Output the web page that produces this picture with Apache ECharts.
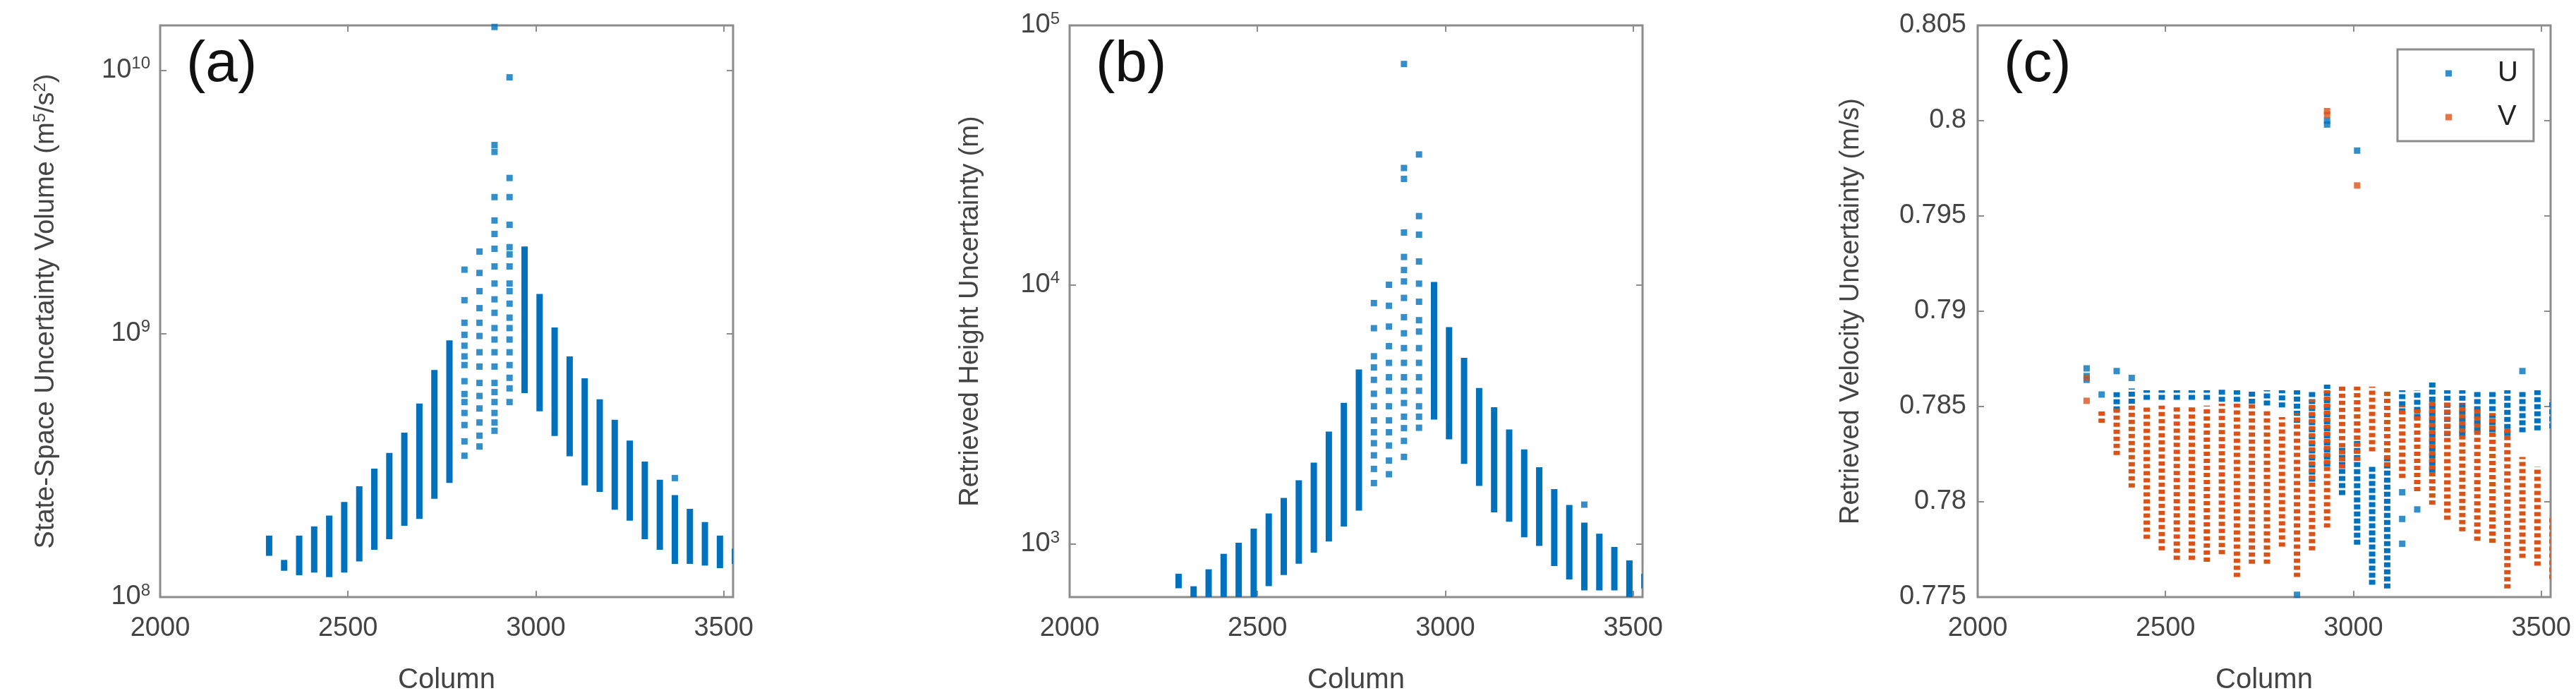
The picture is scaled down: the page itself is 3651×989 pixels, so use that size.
<!DOCTYPE html>
<html>
<head>
<meta charset="utf-8">
<script src="https://cdn.jsdelivr.net/npm/echarts@6/dist/echarts.min.js"></script>
<style>html,body{margin:0;padding:0;background:#fff}#chart{width:3651px;height:989px}</style>
</head>
<body>
<div id="chart"></div>
<script>
// (a) state-space uncertainty volume: dense column strips + sparse peak points
var aStripCols = [2290, 2330, 2370, 2410, 2450, 2490, 2530, 2570, 2610, 2650, 2690, 2730, 2770, 2970, 3010, 3050, 3090, 3130, 3170, 3210, 3250, 3290, 3330, 3370, 3410, 3450, 3490, 3530];
var aStripMin = [1.47e8, 1.29e8, 1.24e8, 1.27e8, 1.22e8, 1.27e8, 1.40e8, 1.55e8, 1.70e8, 1.91e8, 2.03e8, 2.42e8, 2.78e8, 6.1e8, 5.2e8, 4.19e8, 3.51e8, 2.72e8, 2.57e8, 2.2e8, 2.0e8, 1.7e8, 1.55e8, 1.37e8, 1.37e8, 1.35e8, 1.32e8, 1.37e8];
var aStripMax = [1.67e8, 1.35e8, 1.67e8, 1.81e8, 1.99e8, 2.24e8, 2.57e8, 3.0e8, 3.44e8, 4.11e8, 5.3e8, 7.1e8, 9.2e8, 2.09e9, 1.38e9, 1.03e9, 8.0e8, 6.6e8, 5.5e8, 4.6e8, 3.83e8, 3.19e8, 2.72e8, 2.38e8, 2.11e8, 1.88e8, 1.67e8, 1.49e8];
var aDots = [
  [2810, 1.75e9], [2810, 1.34e9], [2810, 1.1e9], [2810, 9.9e8], [2810, 9.0e8], [2810, 8.2e8], [2810, 7.6e8], [2810, 6.6e8], [2810, 5.9e8], [2810, 5.5e8], [2810, 5.0e8], [2810, 4.5e8], [2810, 3.9e8], [2810, 3.44e8],
  [2850, 2.05e9], [2850, 1.7e9], [2850, 1.45e9], [2850, 1.25e9], [2850, 1.1e9], [2850, 9.8e8], [2850, 8.5e8], [2850, 7.5e8], [2850, 6.5e8], [2850, 5.8e8], [2850, 5.2e8], [2850, 4.6e8], [2850, 4.1e8], [2850, 3.73e8],
  [2890, 1.46e10], [2890, 5.2e9], [2890, 4.9e9], [2890, 3.3e9], [2890, 2.69e9], [2890, 2.39e9], [2890, 2.1e9], [2890, 1.8e9], [2890, 1.55e9], [2890, 1.35e9], [2890, 1.2e9], [2890, 1.05e9], [2890, 9.5e8], [2890, 8.5e8], [2890, 7.5e8], [2890, 6.5e8], [2890, 6.0e8], [2890, 5.5e8], [2890, 5.0e8], [2890, 4.6e8], [2890, 4.28e8],
  [2930, 9.4e9], [2930, 3.9e9], [2930, 3.3e9], [2930, 2.59e9], [2930, 2.13e9], [2930, 2.0e9], [2930, 1.8e9], [2930, 1.55e9], [2930, 1.45e9], [2930, 1.3e9], [2930, 1.15e9], [2930, 1.05e9], [2930, 9.5e8], [2930, 8.5e8], [2930, 7.6e8], [2930, 6.8e8], [2930, 6.2e8], [2930, 5.5e8],
  [3370, 2.83e8]
];

// (b) retrieved height uncertainty
var bStripCols = [2290, 2330, 2370, 2410, 2450, 2490, 2530, 2570, 2610, 2650, 2690, 2730, 2770, 2970, 3010, 3050, 3090, 3130, 3170, 3210, 3250, 3290, 3330, 3370, 3410, 3450, 3490, 3530];
var bStripMin = [693, 600, 600, 600, 600, 600, 706, 780, 861, 951, 1050, 1200, 1380, 3100, 2600, 2090, 1720, 1360, 1250, 1090, 1010, 844, 750, 680, 680, 680, 641, 693];
var bStripMax = [750, 671, 780, 895, 988, 1120, 1280, 1470, 1720, 2010, 2650, 3420, 4600, 10000, 6700, 5100, 3900, 3290, 2700, 2260, 1930, 1590, 1380, 1180, 1070, 951, 844, 750];
var bDots = [
  [2810, 8500], [2810, 6800], [2810, 5300], [2810, 4800], [2810, 4300], [2810, 3800], [2810, 3400], [2810, 3000], [2810, 2700], [2810, 2450], [2810, 2200], [2810, 1950], [2810, 1720],
  [2850, 10000], [2850, 8300], [2850, 6900], [2850, 5800], [2850, 5000], [2850, 4400], [2850, 3900], [2850, 3400], [2850, 3000], [2850, 2700], [2850, 2400], [2850, 2100], [2850, 1860],
  [2890, 71000], [2890, 28200], [2890, 25600], [2890, 15900], [2890, 12800], [2890, 11400], [2890, 10300], [2890, 8900], [2890, 7500], [2890, 6500], [2890, 5700], [2890, 5000], [2890, 4400], [2890, 3900], [2890, 3500], [2890, 3100], [2890, 2800], [2890, 2500], [2890, 2170],
  [2930, 31800], [2930, 18400], [2930, 15600], [2930, 12300], [2930, 10100], [2930, 8600], [2930, 7300], [2930, 6600], [2930, 5700], [2930, 5000], [2930, 4400], [2930, 3900], [2930, 3400], [2930, 3100], [2930, 2810],
  [3370, 1420]
];

// (c) retrieved velocity uncertainty, U and V
var uStripCols = [2370, 2410, 2450, 2490, 2530, 2570, 2610, 2650, 2690, 2730, 2770, 2810, 2850, 2890, 2930, 2970, 3010, 3050, 3090, 3130, 3170, 3210, 3250, 3290, 3330, 3370, 3410, 3450, 3490, 3530];
var uStripMin = [0.7849, 0.7853, 0.7855, 0.7855, 0.7855, 0.7855, 0.7855, 0.7854, 0.7854, 0.7853, 0.7852, 0.7851, 0.7843, 0.7812, 0.7820, 0.7805, 0.7779, 0.7758, 0.7756, 0.7848, 0.7845, 0.7817, 0.7836, 0.7836, 0.7838, 0.7838, 0.7836, 0.7838, 0.7839, 0.7840];
var uStripMax = [0.7857, 0.7858, 0.7857, 0.7857, 0.7857, 0.7857, 0.7857, 0.7858, 0.7857, 0.7857, 0.7857, 0.7857, 0.7857, 0.7857, 0.7860, 0.7827, 0.7831, 0.7817, 0.7822, 0.7857, 0.7857, 0.7862, 0.7857, 0.7857, 0.7857, 0.7857, 0.7857, 0.7857, 0.7857, 0.7852];
var uDots = [[2290, 0.7870], [2290, 0.7866], [2290, 0.7864], [2330, 0.78563], [2370, 0.78686], [2410, 0.7865], [2850, 0.77512], [2930, 0.8000], [2930, 0.7998], [3010, 0.79843], [3130, 0.7805], [3130, 0.7791], [3130, 0.7778], [3170, 0.7796], [3450, 0.78686]];
var vStripCols = [2330, 2370, 2410, 2450, 2490, 2530, 2570, 2610, 2650, 2690, 2730, 2770, 2810, 2850, 2890, 2930, 2970, 3010, 3050, 3090, 3130, 3170, 3210, 3250, 3290, 3330, 3370, 3410, 3450, 3490, 3530];
var vStripMin = [0.7843, 0.7826, 0.7809, 0.7782, 0.7776, 0.7771, 0.7771, 0.7770, 0.7774, 0.7762, 0.7769, 0.7769, 0.7778, 0.7762, 0.7776, 0.7788, 0.7819, 0.7823, 0.7828, 0.7820, 0.7814, 0.7807, 0.7800, 0.7792, 0.7786, 0.7781, 0.7780, 0.7756, 0.7772, 0.7768, 0.7761];
var vStripMax = [0.7847, 0.7849, 0.7850, 0.7849, 0.7849, 0.7849, 0.7849, 0.7849, 0.7850, 0.7850, 0.7850, 0.7847, 0.7843, 0.7845, 0.7852, 0.7857, 0.7860, 0.7859, 0.7859, 0.7857, 0.7849, 0.7848, 0.7852, 0.7852, 0.7850, 0.7848, 0.7845, 0.7838, 0.7822, 0.7817, 0.7791];
var vDots = [[2290, 0.7865], [2290, 0.7853], [2930, 0.8005], [2930, 0.8003], [3010, 0.7966]];

var BLUE = '#0072BD', ORANGE = '#D95319';
var GREY = '#8c8c8c', TEXT = '#444', FONT = 'Liberation Sans';

function strips(cols, mins, maxs) {
    return cols.map(function (c, i) { return [c, mins[i], maxs[i]]; });
}

function stripSeries(idx, data, color, dash) {
    return {
        type: 'custom', xAxisIndex: idx, yAxisIndex: idx, clip: true, data: data,
        renderItem: function (params, api) {
            var p0 = api.coord([api.value(0), api.value(1)]);
            var p1 = api.coord([api.value(0), api.value(2)]);
            return {
                type: 'line',
                shape: { x1: p0[0], y1: p0[1] + 4, x2: p1[0], y2: p1[1] - 4 },
                style: { stroke: color, lineWidth: 9, lineDash: dash }
            };
        },
        encode: { x: 0, y: [1, 2] }
    };
}

function dotSeries(idx, data, color, name) {
    return {
        type: 'scatter', name: name, xAxisIndex: idx, yAxisIndex: idx, data: data,
        symbol: 'rect', symbolSize: 9, itemStyle: { color: color }, clip: true
    };
}

var lefts = [227, 1516, 2803];
var txt = { color: TEXT, fontFamily: FONT, fontSize: 38 };
var tick = { inside: true, length: 9, lineStyle: { color: GREY, width: 2 } };
var grids = lefts.map(function (l) {
    return { left: l, width: 812, top: 36, height: 814, show: true, borderColor: GREY, borderWidth: 3, backgroundColor: '#fff' };
});

var xAxes = [], yAxes = [];
[0, 1, 2].forEach(function (g) {
    xAxes.push({
        type: 'value', gridIndex: g, min: 2000, max: 3525, interval: 500,
        name: 'Column', nameLocation: 'middle', nameGap: 98, nameTextStyle: { color: TEXT, fontFamily: FONT, fontSize: 40 },
        axisLine: { show: false }, axisTick: tick,
        axisLabel: Object.assign({ margin: 26, formatter: function (v) { return v % 500 === 0 ? String(v) : ''; } }, txt),
        splitLine: { show: false }
    });
    xAxes.push({
        type: 'value', gridIndex: g, position: 'top', min: 2000, max: 3525, interval: 500,
        axisLine: { show: false }, axisTick: tick, axisLabel: { show: false }, splitLine: { show: false }
    });
});

var sup = { b: { color: TEXT, fontFamily: FONT, fontSize: 38 }, s: { color: TEXT, fontFamily: FONT, fontSize: 24, verticalAlign: 'top', padding: [0, 0, 18, 0] } };
var yDefs = [
    { type: 'log', min: 1e8, max: 1.48e10, name: 'State-Space Uncertainty Volume (m{s|5}/s{s|2})', gap: 140 },
    { type: 'log', min: 625, max: 1e5, name: 'Retrieved Height Uncertainty (m)', gap: 121 },
    { type: 'value', min: 0.775, max: 0.805, interval: 0.005, name: 'Retrieved Velocity Uncertainty (m/s)', gap: 160 }
];
yDefs.forEach(function (d, g) {
    var lab = d.type === 'log'
        ? { formatter: function (v) { var e = Math.log10(v); return Math.abs(e - Math.round(e)) < 1e-6 ? '{b|10}{s|' + Math.round(e) + '}' : ''; }, rich: sup, margin: 14 }
        : Object.assign({ margin: 16, formatter: function (v) { return +v.toFixed(3) + ''; } }, txt);
    yAxes.push({
        type: d.type, gridIndex: g, min: d.min, max: d.max, interval: d.interval, logBase: 10,
        name: d.name, nameLocation: 'middle', nameGap: d.gap,
        nameTextStyle: { color: TEXT, fontFamily: FONT, fontSize: 38, rich: { s: { fontSize: 24, verticalAlign: 'top', color: TEXT, fontFamily: FONT, padding: [0, 0, 18, 0] } } },
        axisLine: { show: false }, axisTick: tick, axisLabel: lab, splitLine: { show: false }
    });
    yAxes.push({
        type: d.type, gridIndex: g, position: 'right', min: d.min, max: d.max, interval: d.interval, logBase: 10,
        axisLine: { show: false }, axisTick: tick, axisLabel: { show: false }, splitLine: { show: false }
    });
});

var series = [
    stripSeries(0, strips(aStripCols, aStripMin, aStripMax), BLUE, null),
    dotSeries(0, aDots, BLUE),
    stripSeries(2, strips(bStripCols, bStripMin, bStripMax), BLUE, null),
    dotSeries(2, bDots, BLUE),
    stripSeries(4, strips(uStripCols, uStripMin, uStripMax), BLUE, [7, 3]),
    dotSeries(4, uDots, BLUE, 'U'),
    stripSeries(4, strips(vStripCols, vStripMin, vStripMax), ORANGE, [6, 4]),
    dotSeries(4, vDots, ORANGE, 'V')
];

var chart = echarts.init(document.getElementById('chart'), null, { renderer: 'canvas' });
chart.setOption({
    animation: false,
    backgroundColor: '#fff',
    title: ['(a)', '(b)', '(c)'].map(function (t, i) {
        return { text: t, left: lefts[i] + 32, top: 46, textStyle: { fontFamily: FONT, fontWeight: 'normal', fontSize: 82, color: '#111' } };
    }),
    grid: grids,
    xAxis: xAxes,
    yAxis: yAxes,
    legend: {
        data: ['U', 'V'], orient: 'vertical', left: 3398, top: 70,
        itemWidth: 9, itemHeight: 9, itemGap: 22, icon: 'rect',
        padding: [14, 22, 14, 68], borderColor: GREY, borderWidth: 3, backgroundColor: '#fff',
        textStyle: { color: '#222', fontFamily: FONT, fontSize: 40, padding: [0, 0, 0, 60] }
    },
    series: series
});
</script>
</body>
</html>
